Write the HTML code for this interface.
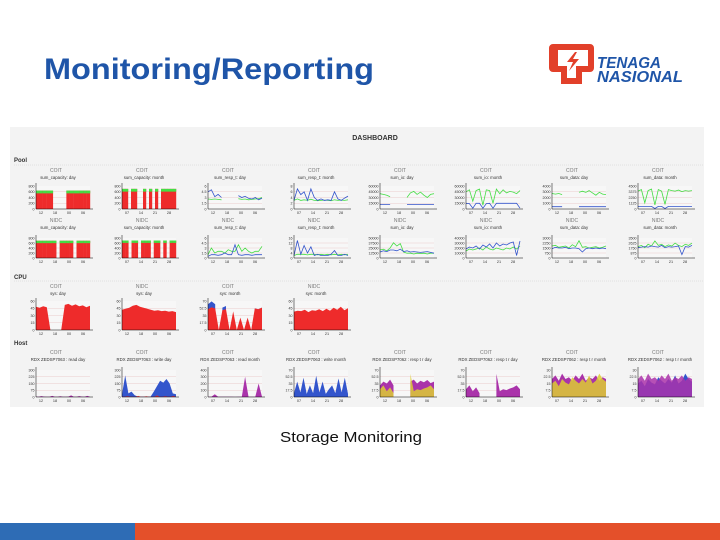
<!DOCTYPE html>
<html><head><meta charset="utf-8"><style>
body{margin:0;width:720px;height:540px;overflow:hidden;background:#fff;font-family:"Liberation Sans",sans-serif}
svg{display:block}
</style></head><body>
<svg id="s" width="720" height="540" xmlns="http://www.w3.org/2000/svg">
<text x="44" y="79" font-size="30" font-weight="bold" fill="#1f55a8" textLength="330" lengthAdjust="spacingAndGlyphs">Monitoring/Reporting</text>
<g>
<path d="M553 44 h37 a4 4 0 0 1 4 4 v20 a4 4 0 0 1 -4 4 h-8 v12 h-21 v-12 h-8 a4 4 0 0 1 -4 -4 v-20 a4 4 0 0 1 4 -4z M558 50 v16 h9 v12 h9 v-12 h12 v-16z" fill="#e2402a" fill-rule="evenodd"/>
<path d="M575 52 l-8 10 h6 l-4 9 l10 -12 h-6 l4 -7z" fill="#e2402a"/>
<text x="597" y="68" font-size="16" font-weight="bold" font-style="italic" fill="#1f55a8" textLength="64" lengthAdjust="spacingAndGlyphs">TENAGA</text>
<text x="597" y="82" font-size="16" font-weight="bold" font-style="italic" fill="#1f55a8" textLength="86" lengthAdjust="spacingAndGlyphs">NASIONAL</text>
</g>
<rect x="10" y="127" width="694" height="280" fill="#f3f3f3"/>
<text x="375" y="140" font-size="7" font-weight="bold" text-anchor="middle" fill="#333">DASHBOARD</text>
<text x="14" y="162" font-size="6" font-weight="bold" fill="#333">Pool</text>
<line x1="14" y1="165" x2="704" y2="165" stroke="#ccc" stroke-width="0.5" stroke-dasharray="1 1"/>
<text x="14" y="279" font-size="6" font-weight="bold" fill="#333">CPU</text>
<line x1="14" y1="281" x2="704" y2="281" stroke="#ccc" stroke-width="0.5" stroke-dasharray="1 1"/>
<text x="14" y="345" font-size="6" font-weight="bold" fill="#333">Host</text>
<g id="charts"></g>
<text x="351" y="442" font-size="15" text-anchor="middle" fill="#111" textLength="142" lengthAdjust="spacingAndGlyphs">Storage Monitoring</text>
<rect x="0" y="523" width="135" height="17" fill="#2e6cb5"/>
<rect x="135" y="523" width="585" height="17" fill="#e4502a"/>
</svg>
<script>
const capDay1=[640,640,640,640,640,0,0,0,0,640,640,640,640,640,640,640];
const capMon1=[700,700,0,700,700,0,0,700,0,700,0,700,0,700,700,700,700,700];
const respDay1B=[4.5,5,3.2,3.8,3,null,null,null,null,3.5,3,3.3,2.8,2.6,3,2.4,2.8];
const respDay1G=[2.6,2.5,2.6,2.5,2.4,null,null,null,null,2.7,2.5,2.6,2.4,2.5,2.6,2.7,3];
const respMon1B=[3,7,5,6,3,7,4,3,3.5,3,3.2,3,6,3.5,3,3.8,4.5];
const respMon1G=[3,3.5,3,3.2,3,3.4,3,2.9,3,3.1,3,2.9,3.2,3,3.1,3,3.2];
const ioDay1G=[40000,38000,36000,32000,null,null,null,null,30000,42000,46000,38000,44000,36000,30000,38000,40000];
const ioDay1B=[12000,12000,12000,12000,null,null,null,null,12000,12000,12000,12000,12000,12000,12000,12000,12000];
const ioMon1G=[45000,50000,20000,48000,52000,10000,50000,48000,15000,52000,40000,50000,42000,46000,44000,40000,48000];
const ioMon1B=[15000,14000,2000,15000,15000,2000,14000,15000,2000,15000,15000,15000,15000,15000,15000,15000,2000];
const dataDay1G=[2700,2600,2700,2500,null,null,null,null,2900,3100,2900,3200,2800,2400,2900,2600,2500];
const dataDay1B=[400,400,400,400,null,null,null,null,400,400,400,400,400,400,400,400,400];
const dataMon1G=[3500,3800,1200,3600,3900,800,3800,3500,900,3800,3600,3500,3700,3400,3600,3500,3600];
const dataMon1B=[500,500,500,500,500,100,500,500,100,500,500,500,500,500,500,500,500];
const capDay2=[690,690,690,690,690,690,0,690,690,690,690,0,690,690,690,690];
const capMon2=[700,700,0,700,700,0,700,700,700,0,700,700,0,700,0,700,700];
const respDay2G=[1,3,1.5,2,2,1.5,2.5,2,2,4,2,3,2,1.5,2,2,3.5];
const respDay2B=[0.5,1,1,0.8,1,1.5,1,1,4,1,0.8,1,1,0.8,1,1,1];
const respMon2B=[2,14,3,10,4,9,2,3,2,2,2,3,6,2,2,3,2];
const respMon2G=[2,3,3,3,2.5,3,3,2.5,3,2.5,3,2.5,3,2.5,3,2.5,3];
const ioDay2G=[20000,22000,18000,25000,38000,30000,36000,15000,12000,12000,10000,12000,11000,12000,10000,12000,12000];
const ioDay2B=[15000,18000,16000,20000,20000,18000,22000,16000,18000,15000,16000,15000,14000,15000,16000,14000,12000];
const ioMon2B=[18000,22000,20000,24000,18000,26000,22000,28000,20000,30000,24000,28000,26000,30000,32000,5000,34000];
const ioMon2G=[14000,18000,16000,18000,20000,16000,22000,18000,16000,20000,18000,16000,20000,18000,22000,18000,24000];
const dataDay2G=[1800,1900,1600,1700,1800,1500,2000,1700,2600,1600,1700,1500,1600,1700,1500,1600,1800];
const dataDay2B=[1400,1600,1500,1500,1600,1400,1500,1500,1400,900,1400,1500,1400,1500,1400,1500,1400];
const dataMon2G=[2000,2200,1800,2400,2100,3000,2200,2400,2000,2300,2100,2600,2200,2000,2400,2200,2600];
const dataMon2B=[1800,1900,2000,1900,2100,2000,1900,2200,1800,2000,1900,2000,2100,600,2000,1900,2200];
const cpuDay1=[48,46,49,47,0,0,0,0,52,54,50,53,49,51,47,50];
const cpuDay2=[42,44,46,50,52,48,46,44,42,40,41,39,40,38,39,37];
const cpuMon1=[50,55,52,0,48,50,0,45,0,30,0,30,0,52,50,54];
const cpuMon1B=[12,14,10,0,6,8,0,4,0,0,0,0,0,0,0,0];
const cpuMon2=[38,40,39,42,37,41,40,43,39,44,40,46,42,48,41,45];
const hostA=[5,3,10,4,3,2,12,3,2,8,3,2,4,18,3,2,10,4,3,12,2];
const hostB=[30,240,40,60,20,5,5,5,5,5,60,120,180,160,200,150,40,30];
const hostC=[5,3,40,5,3,4,3,5,2,4,3,300,5,4,3,200,4];
const hostD=[10,40,12,50,8,30,10,55,12,40,8,20,30,10,48,12,50,8];
const hostE=[30,40,35,45,30,null,null,null,null,40,45,35,42,38,44,36,40];
const hostF=[20,30,15,25,10,null,null,null,null,60,15,20,18,22,25,30,20];
const hostG=[20,24,18,26,20,22,18,24,20,26,18,22,20,24,18,22,20];
const hostH=[15,18,12,20,16,14,22,18,15,20,16,24,15,18,26,20,17];

const RED='#ee2b2b',GRN='#44dd44',BLU='#3355cc',PUR='#aa33aa',YEL='#ddcc33';
const charts=[
 {c:0,r:0,t:'COIT',s:'sum_capacity: day',max:800,k:'cap',d:[capDay1],ticks:['12','18','00','06']},
 {c:1,r:0,t:'COIT',s:'sum_capacity: month',max:800,k:'cap',d:[capMon1],ticks:['07','14','21','28']},
 {c:2,r:0,t:'COIT',s:'sum_resp_t: day',max:6,k:'line',d:[respDay1G,respDay1B],col:[GRN,BLU],ticks:['12','18','00','06']},
 {c:3,r:0,t:'COIT',s:'sum_resp_t: month',max:8,k:'line',d:[respMon1G,respMon1B],col:[GRN,BLU],ticks:['07','14','21','28']},
 {c:4,r:0,t:'COIT',s:'sum_io: day',max:60000,k:'line',d:[ioDay1G,ioDay1B],col:[GRN,BLU],ticks:['12','18','00','06']},
 {c:5,r:0,t:'COIT',s:'sum_io: month',max:60000,k:'line',d:[ioMon1G,ioMon1B],col:[GRN,BLU],ticks:['07','14','21','28']},
 {c:6,r:0,t:'COIT',s:'sum_data: day',max:4000,k:'line',d:[dataDay1G,dataDay1B],col:[GRN,BLU],ticks:['12','18','00','06']},
 {c:7,r:0,t:'COIT',s:'sum_data: month',max:4500,k:'line',d:[dataMon1G,dataMon1B],col:[GRN,BLU],ticks:['07','14','21','28']},
 {c:0,r:1,t:'NIDC',s:'sum_capacity: day',max:800,k:'cap',d:[capDay2],ticks:['12','18','00','06']},
 {c:1,r:1,t:'NIDC',s:'sum_capacity: month',max:800,k:'cap',d:[capMon2],ticks:['07','14','21','28']},
 {c:2,r:1,t:'NIDC',s:'sum_resp_t: day',max:6,k:'line',d:[respDay2G,respDay2B],col:[GRN,BLU],ticks:['12','18','00','06']},
 {c:3,r:1,t:'NIDC',s:'sum_resp_t: month',max:16,k:'line',d:[respMon2G,respMon2B],col:[GRN,BLU],ticks:['07','14','21','28']},
 {c:4,r:1,t:'NIDC',s:'sum_io: day',max:50000,k:'line',d:[ioDay2G,ioDay2B],col:[GRN,BLU],ticks:['12','18','00','06']},
 {c:5,r:1,t:'NIDC',s:'sum_io: month',max:40000,k:'line',d:[ioMon2G,ioMon2B],col:[GRN,BLU],ticks:['07','14','21','28']},
 {c:6,r:1,t:'NIDC',s:'sum_data: day',max:3000,k:'line',d:[dataDay2G,dataDay2B],col:[GRN,BLU],ticks:['12','18','00','06']},
 {c:7,r:1,t:'NIDC',s:'sum_data: month',max:3500,k:'line',d:[dataMon2G,dataMon2B],col:[GRN,BLU],ticks:['07','14','21','28']},
 {c:0,r:2,t:'COIT',s:'sys: day',max:60,k:'area',d:[cpuDay1],col:[RED],ticks:['12','18','00','06']},
 {c:1,r:2,t:'NIDC',s:'sys: day',max:60,k:'area',d:[cpuDay2],col:[RED],ticks:['12','18','00','06']},
 {c:2,r:2,t:'COIT',s:'sys: month',max:70,k:'stack',d:[cpuMon1,cpuMon1B],col:[RED,BLU],ticks:['07','14','21','28']},
 {c:3,r:2,t:'NIDC',s:'sys: month',max:60,k:'area',d:[cpuMon2],col:[RED],ticks:['07','14','21','28']},
 {c:0,r:3,t:'COIT',s:'RDX ZEDSP7063 : read day',max:300,k:'area',d:[hostA],col:[PUR],ticks:['12','18','00','06']},
 {c:1,r:3,t:'COIT',s:'RDX ZEDSP7063 : write day',max:300,k:'area',d:[hostB,hostA],col:[BLU,RED],ticks:['12','18','00','06']},
 {c:2,r:3,t:'COIT',s:'RDX ZEDSP7063 : read month',max:400,k:'area',d:[hostC],col:[PUR],ticks:['07','14','21','28']},
 {c:3,r:3,t:'COIT',s:'RDX ZEDSP7063 : write month',max:70,k:'area',d:[hostD],col:[BLU],ticks:['07','14','21','28']},
 {c:4,r:3,t:'COIT',s:'RDX ZEDSP7062 : resp t r day',max:70,k:'area',d:[hostE,hostF],col:[PUR,YEL],ticks:['12','18','00','06']},
 {c:5,r:3,t:'COIT',s:'RDX ZEDSP7062 : resp t r day',max:70,k:'area',d:[hostF],col:[PUR],ticks:['12','18','00','06']},
 {c:6,r:3,t:'COIT',s:'RDX ZEDSP7062 : resp t r month',max:30,k:'area',d:[hostG,hostH],col:[PUR,YEL],ticks:['07','14','21','28']},
 {c:7,r:3,t:'COIT',s:'RDX ZEDSP7062 : resp t r month',max:30,k:'area',d:[hostH,hostG],col:[BLU,PUR],ticks:['07','14','21','28']}
];
const rowY=[[172,186,209],[222,238,258],[288,301,330],[354,370,397]];
const NS='http://www.w3.org/2000/svg';
const G=document.getElementById('charts');
function mk(tag,at,par){const e=document.createElementNS(NS,tag);for(const k in at)e.setAttribute(k,at[k]);(par||G).appendChild(e);return e;}
charts.forEach((ch,ci)=>{
 const [ty,y0,y1]=rowY[ch.r];
 const x0=36+ch.c*86,x1=x0+54;
 const g=mk('g',{});
 
 
 const t=mk('text',{x:x0+20,y:ty,'font-size':5,'text-anchor':'middle',fill:'#777'},g);t.textContent=ch.t;
 
 
 const s=mk('text',{x:x0+22,y:ty+7,'font-size':4.3,'text-anchor':'middle',fill:'#333'},g);s.textContent=ch.s;
 
 
 mk('rect',{x:x0,y:y0,width:x1-x0,height:y1-y0,fill:'#f7f7f7'},g);
 for(let i=1;i<4;i++){mk('line',{x1:x0,x2:x1,y1:y0+(y1-y0)*i/4,y2:y0+(y1-y0)*i/4,stroke:'#e3b0b0','stroke-width':0.3},g);}
 const ys=v=>y1-(v/ch.max)*(y1-y0);
 ch.d.forEach((arr,si)=>{
  const n=arr.length,xs=i=>x0+(x1-x0)*i/(n-1);
  if(ch.k==='cap'){
   const bw=(x1-x0)/n;
   arr.forEach((v,i)=>{if(!v)return;const bx=x0+bw*i;
    const r=mk('rect',{x:bx,y:ys(v),width:bw+0.2,height:y1-ys(v),fill:RED},g);
    
    
    mk('rect',{x:bx,y:ys(v),width:bw+0.2,height:(y1-y0)*0.12,fill:GRN},g);});
  } else if(ch.k==='line'){
   let d='',pen=false;
   arr.forEach((v,i)=>{if(v==null){pen=false;return;}d+=(pen?'L':'M')+xs(i).toFixed(1)+' '+ys(v).toFixed(1);pen=true;});
   const p=mk('path',{d:d,fill:'none',stroke:ch.col[si],'stroke-width':0.8},g);
   
   
  } else {
   const base=ch.k==='stack'&&si>0?ch.d[0]:null;
   let d='';let seg=[];
   const flush=()=>{if(seg.length){d+='M'+seg[0][0]+' '+y1;seg.forEach(q=>d+='L'+q[0].toFixed(1)+' '+q[1].toFixed(1));d+='L'+seg[seg.length-1][0]+' '+y1+'Z';}seg=[];};
   arr.forEach((v,i)=>{if(v==null){flush();return;}const b=base?base[i]||0:0;if(base&&!b&&!v){flush();return;}seg.push([xs(i),ys(v+b)]);});
   flush();
   const p=mk('path',{d:d,fill:ch.col[si],opacity:base?1:(si?0.85:1)},g);
   if(base){g.insertBefore(p,g.querySelectorAll('path')[0]||null);}
   
   
  }
 });
 mk('line',{x1:x0,x2:x0,y1:y0-3,y2:y1,stroke:'#000','stroke-width':0.5},g);
 mk('line',{x1:x0,x2:x1+3,y1:y1,y2:y1,stroke:'#000','stroke-width':0.5},g);
 ch.ticks.forEach((tk,i)=>{const e=mk('text',{x:x0+5+i*14,y:y1+5,'font-size':3.8,fill:'#333','text-anchor':'middle'},g);e.textContent=tk;
  
  });
 [0,0.25,0.5,0.75,1].forEach(f=>{const e=mk('text',{x:x0-1.5,y:y1-(y1-y0)*f+1.3,'font-size':3.6,fill:'#333','text-anchor':'end'},g);
  const v=ch.max*f;e.textContent=v>=1000?Math.round(v):(+v.toFixed(1));
  
  });
});
</script>
</body></html>
